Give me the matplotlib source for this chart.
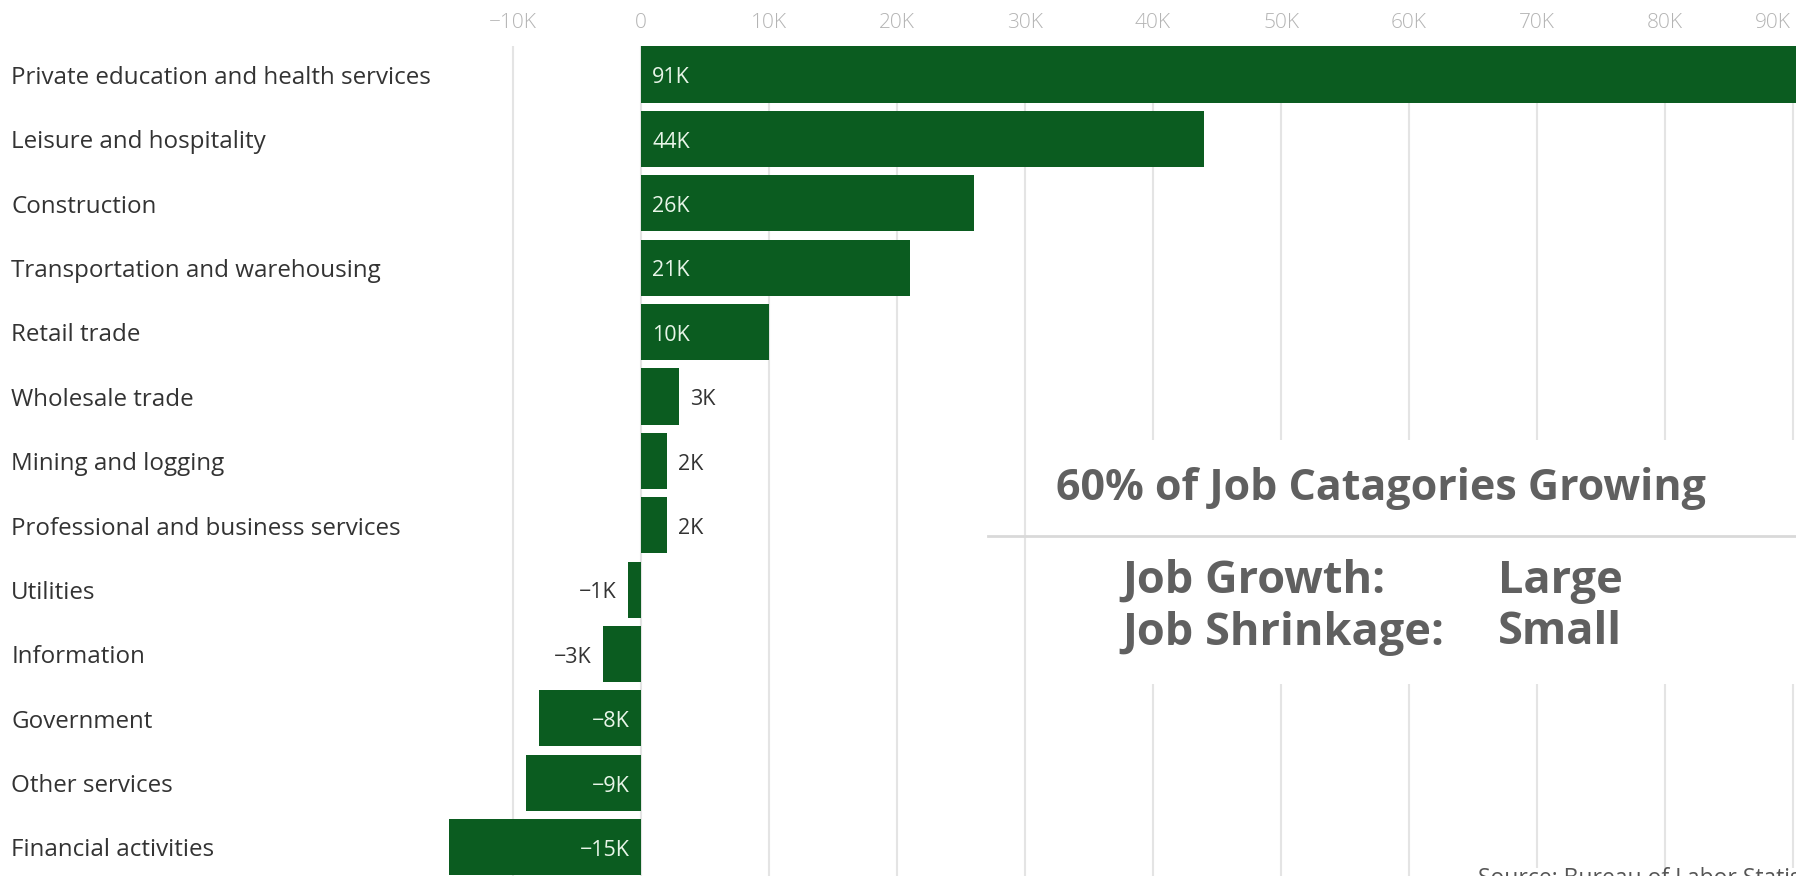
import matplotlib.pyplot as plt
from matplotlib.patches import Rectangle

# job change by sector, thousands
categories = [
    "Private education and health services",
    "Leisure and hospitality",
    "Construction",
    "Transportation and warehousing",
    "Retail trade",
    "Wholesale trade",
    "Mining and logging",
    "Professional and business services",
    "Utilities",
    "Information",
    "Government",
    "Other services",
    "Financial activities",
]
values = [91, 44, 26, 21, 10, 3, 2, 2, -1, -3, -8, -9, -15]
tick_values = [-10, 0, 10, 20, 30, 40, 50, 60, 70, 80, 90]

bar_color = "#0b5c20"
grid_color = "#e4e4e4"

plt.rcParams['font.family'] = ['Open Sans', 'DejaVu Sans']

fig = plt.figure(figsize=(17.96, 8.76), dpi=100)
ax = fig.add_axes([0, 0, 1, 1])
ax.set_xlim(-50.08, 90.23)
ax.set_ylim(12.446, -1.157)
ax.axis('off')

# vertical gridlines + tick labels along the top
ax.vlines(tick_values, -0.45, 13, color=grid_color, lw=1.5, zorder=0)
for t in tick_values:
    lab = "0" if t == 0 else f"{t}K".replace("-", "\u2212")
    if t == tick_values[-1]:
        # last label would run off the right edge, pull it inside
        ax.annotate(lab, (t, -0.8), xytext=(-2, 0), textcoords='offset points',
                    ha='right', va='center', fontsize=15, color="#b4b4b4",
                    fontweight='light')
    else:
        ax.text(t, -0.8, lab, ha='center', va='center', fontsize=15,
                color="#b4b4b4", fontweight='light')

y = list(range(len(categories)))
ax.barh(y, values, height=0.87, color=bar_color, zorder=2)

for yi, name, v in zip(y, categories, values):
    ty = yi + 0.05
    ax.text(-49.2, ty, name, ha='left', va='center', fontsize=17.4, color="#333333")
    lab = f"{v}K".replace("-", "\u2212")
    off = 8 if v > 0 else -8
    ha = 'left' if v > 0 else 'right'
    if abs(v) >= 5:
        ax.annotate(lab, (0, ty), xytext=(off, 0), textcoords='offset points',
                    ha=ha, va='center', fontsize=15.5, color="#e8f5e8", zorder=3)
    else:
        ax.annotate(lab, (v, ty), xytext=(off, 0), textcoords='offset points',
                    ha=ha, va='center', fontsize=15.5, color="#333333", zorder=3)

# annotation panel
fig.patches.append(Rectangle((1040 / 1796, 1 - 684 / 876), 1, (684 - 440) / 876,
                             transform=fig.transFigure, facecolor='white',
                             edgecolor='none', zorder=1))
fig.lines.append(plt.Line2D([988 / 1796, 1], [1 - 536 / 876] * 2,
                            transform=fig.transFigure, color="#d9d9d9", lw=2))
note_color = "#606060"
note_kw = dict(ha='left', va='center', fontweight='bold', color=note_color)
fig.text(1056 / 1796, 1 - 489 / 876, "60% of Job Catagories Growing", fontsize=31, **note_kw)
fig.text(1122 / 1796, 1 - 581 / 876, "Job Growth:", fontsize=32.5, **note_kw)
fig.text(1498 / 1796, 1 - 581 / 876, "Large", fontsize=32.5, **note_kw)
fig.text(1122 / 1796, 1 - 633 / 876, "Job Shrinkage:", fontsize=32.5, **note_kw)
fig.text(1498 / 1796, 1 - 633 / 876, "Small", fontsize=32.5, **note_kw)

# source line, runs off the bottom edge
fig.patches.append(Rectangle((1411 / 1796, 0), 1, 8 / 876, transform=fig.transFigure,
                             facecolor='white', edgecolor='none', zorder=1))
fig.text(1478 / 1796, 1 - 867 / 876, "Source: Bureau of Labor Statistics",
         ha='left', va='top', fontsize=16.5, color="#555555")

fig.savefig("out.png", dpi=100)
